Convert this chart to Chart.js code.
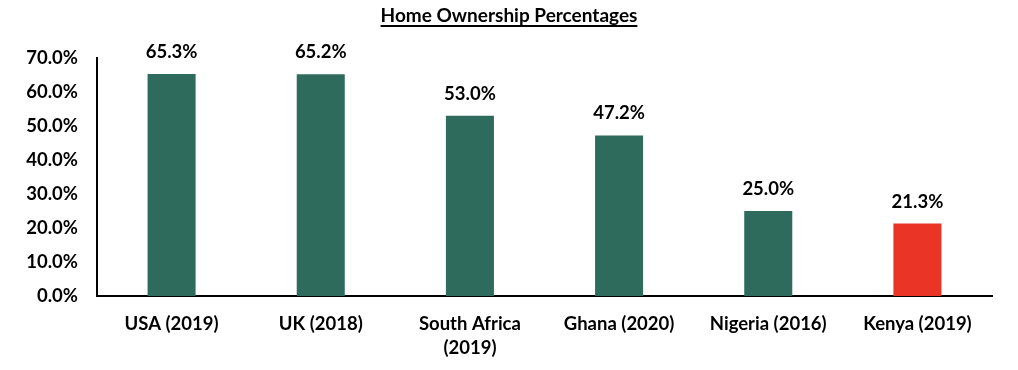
<!DOCTYPE html>
<html lang="en">
<head>
  <meta charset="UTF-8">
  <title>Home Ownership Percentages</title>
  <script src="https://cdn.jsdelivr.net/npm/chart.js"></script>
  <style>
    html, body { margin: 0; padding: 0; background: #fff; }
    #wrap { position: relative; width: 1018px; height: 370px; }
    #titulo {
      position: absolute; top: 3px; left: 0; width: 1018px; text-align: center;
      font-family: Lato, sans-serif; font-weight: bold; font-size: 19px;
      text-decoration: underline; text-decoration-thickness: 2px; text-underline-offset: 3px; color: #000;
    }
  </style>
</head>
<body>
  <div id="wrap">
    <div id="titulo">Home Ownership Percentages</div>
    <canvas id="grafico" width="1018" height="370"></canvas>
  </div>

  <script>
    const paises = [['USA (2019)'], ['UK (2018)'], ['South Africa', '(2019)'], ['Ghana (2020)'], ['Nigeria (2016)'], ['Kenya (2019)']];
    const valores = [65.3, 65.2, 53.0, 47.2, 25.0, 21.3];
    const colores = ['#2e6b5d', '#2e6b5d', '#2e6b5d', '#2e6b5d', '#2e6b5d', '#ea3426'];

    const fuente = { family: 'Lato, sans-serif', weight: 'bold', size: 18.5, lineHeight: 1.3 };

    // etiquetas encima de cada barra
    const etiquetas = {
      id: 'etiquetas',
      afterDatasetsDraw(chart) {
        const ctx = chart.ctx;
        const meta = chart.getDatasetMeta(0);
        ctx.save();
        ctx.font = 'bold 18.5px Lato, sans-serif';
        ctx.fillStyle = '#000';
        ctx.textAlign = 'center';
        ctx.textBaseline = 'middle';
        meta.data.forEach((bar, i) => {
          ctx.fillText(valores[i].toFixed(1) + '%', bar.x, bar.y - 22);
        });
        ctx.restore();
      }
    };

    new Chart(document.getElementById('grafico'), {
      type: 'bar',
      data: {
        labels: paises,
        datasets: [{
          data: valores,
          backgroundColor: colores,
          categoryPercentage: 1,
          barPercentage: 0.322
        }]
      },
      options: {
        responsive: false,
        animation: false,
        layout: { padding: { top: 58, right: 26, left: 0, bottom: 0 } },
        plugins: { legend: { display: false }, tooltip: { enabled: false } },
        scales: {
          x: {
            grid: { display: false, drawTicks: false },
            border: { display: true, color: '#000', width: 2 },
            ticks: { color: '#000', font: fuente, padding: 16, maxRotation: 0, autoSkip: false },
            afterFit(s) { s.height = 74; }
          },
          y: {
            min: 0, max: 70,
            grid: { display: false, drawTicks: false },
            border: { display: true, color: '#000', width: 2 },
            ticks: {
              stepSize: 10, color: '#000', font: fuente, padding: 19,
              callback: v => v.toFixed(1) + '%'
            },
            afterFit(s) { s.width = 97; }
          }
        }
      },
      plugins: [etiquetas]
    });
  </script>
</body>
</html>
